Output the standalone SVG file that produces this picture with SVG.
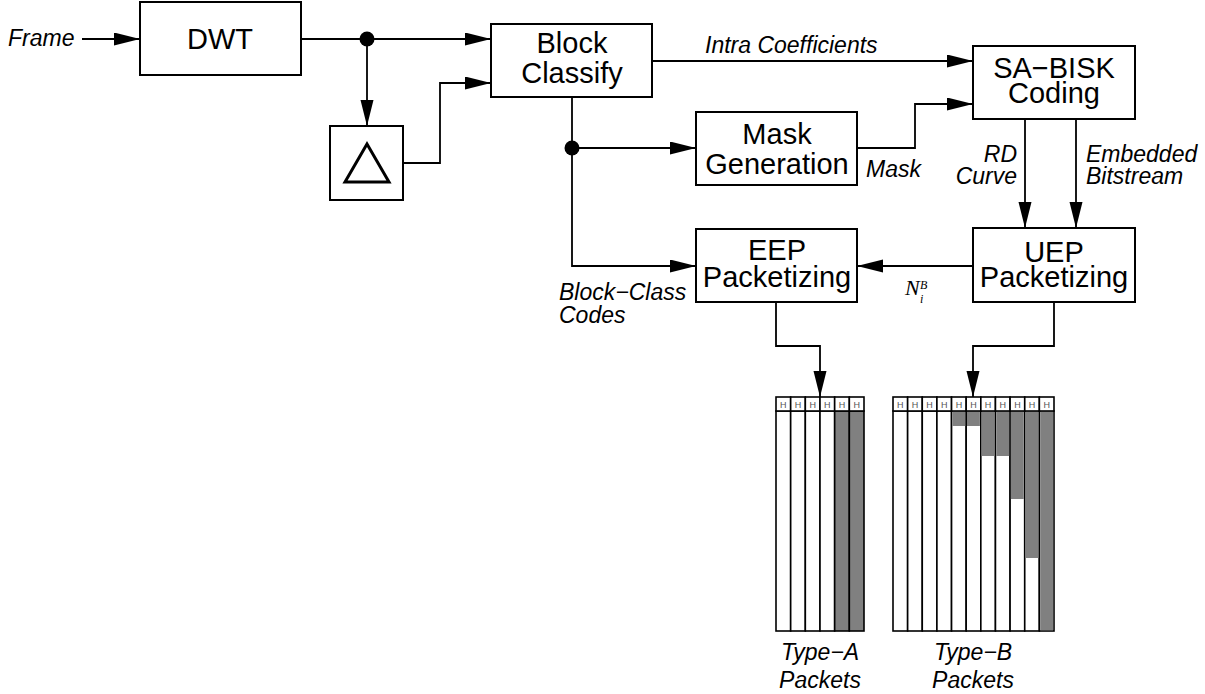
<svg xmlns="http://www.w3.org/2000/svg" width="1205" height="694" viewBox="0 0 1205 694">
<style>
.box{fill:#fff;stroke:#000;stroke-width:2}
.ln{fill:none;stroke:#000;stroke-width:1.8}
.nt{font-family:"Liberation Sans",Arial,sans-serif;font-size:29px;text-anchor:middle;fill:#000}
.lb{font-family:"Liberation Sans",Arial,sans-serif;font-size:23px;font-style:italic;fill:#000}
.col{fill:#fff;stroke:#000;stroke-width:1.6}
.g{fill:#808080;stroke:none}
.h{font-family:"Liberation Sans",Arial,sans-serif;font-size:9px;text-anchor:middle;fill:#555}
.tm{font-family:"Liberation Serif","Times New Roman",serif;font-style:italic;fill:#000}
</style>
<defs>
<marker id="ah" markerUnits="userSpaceOnUse" markerWidth="27" markerHeight="14" refX="26" refY="6.5" orient="auto">
<path d="M0,0 L26,6.5 L0,13 z" fill="#000"/>
</marker>
</defs>
<rect width="1205" height="694" fill="#fff"/>
<g id="connectors">
<path class="ln" d="M82,39 H140" marker-end="url(#ah)"/>
<path class="ln" d="M301,39 H491" marker-end="url(#ah)"/>
<path class="ln" d="M367,39 V126" marker-end="url(#ah)"/>
<path class="ln" d="M403,163 H440 V83 H491" marker-end="url(#ah)"/>
<path class="ln" d="M652,61 H973" marker-end="url(#ah)"/>
<path class="ln" d="M572,97 V266 H696" marker-end="url(#ah)"/>
<path class="ln" d="M572,148 H696" marker-end="url(#ah)"/>
<path class="ln" d="M857,148 H915 V104 H973" marker-end="url(#ah)"/>
<path class="ln" d="M1025,119 V228" marker-end="url(#ah)"/>
<path class="ln" d="M1076,119 V228" marker-end="url(#ah)"/>
<path class="ln" d="M973,266 H857" marker-end="url(#ah)"/>
<path class="ln" d="M776,302 V346 H820 V397" marker-end="url(#ah)"/>
<path class="ln" d="M1054,302 V346 H973 V397" marker-end="url(#ah)"/>
<circle cx="367" cy="39" r="7.5" fill="#000"/>
<circle cx="572" cy="148" r="7.5" fill="#000"/>
<text class="lb" x="8" y="46">Frame</text>
<text class="lb" x="705" y="53">Intra Coefficients</text>
<text class="lb" x="866" y="177">Mask</text>
<text class="lb" x="1017" y="162" text-anchor="end">RD</text>
<text class="lb" x="1017" y="184" text-anchor="end">Curve</text>
<text class="lb" x="1086" y="162">Embedded</text>
<text class="lb" x="1086" y="184">Bitstream</text>
<text class="lb" x="559" y="300">Block−Class</text>
<text class="lb" x="559" y="323">Codes</text>
<text class="tm" x="905" y="295" font-size="22">N</text>
<text class="tm" x="920" y="289" font-size="12">B</text>
<text class="tm" x="920" y="303" font-size="12">i</text>
</g>
<g id="dwt"><rect class="box" x="140" y="2" width="161" height="73"/><text class="nt" x="220" y="49">DWT</text></g>
<g id="delta"><rect class="box" x="330" y="126" width="73" height="74"/><path d="M367,144 L389,182 L345,182 z" fill="none" stroke="#000" stroke-width="3"/></g>
<g id="block-classify"><rect class="box" x="491" y="24" width="161" height="73"/><text class="nt" x="572" y="53">Block</text><text class="nt" x="572" y="83">Classify</text></g>
<g id="mask-generation"><rect class="box" x="696" y="112" width="161" height="73"/><text class="nt" x="777" y="144">Mask</text><text class="nt" x="777" y="174">Generation</text></g>
<g id="sa-bisk"><rect class="box" x="973" y="46" width="162" height="73"/><text class="nt" x="1054" y="78">SA−BISK</text><text class="nt" x="1054" y="103">Coding</text></g>
<g id="uep"><rect class="box" x="973" y="228" width="162" height="74"/><text class="nt" x="1054" y="262">UEP</text><text class="nt" x="1054" y="287">Packetizing</text></g>
<g id="eep"><rect class="box" x="696" y="229" width="161" height="73"/><text class="nt" x="777" y="260">EEP</text><text class="nt" x="777" y="287">Packetizing</text></g>
<g id="type-a">
<rect class="col" x="776" y="411" width="14.67" height="220"/>
<rect class="col" x="790.67" y="411" width="14.67" height="220"/>
<rect class="col" x="805.33" y="411" width="14.67" height="220"/>
<rect class="col" x="820" y="411" width="14.67" height="220"/>
<rect x="834.67" y="411" width="14.67" height="220" fill="#808080" stroke="#000" stroke-width="1.6"/>
<rect x="849.33" y="411" width="14.67" height="220" fill="#808080" stroke="#000" stroke-width="1.6"/>
<rect class="col" x="776" y="397" width="14.67" height="14"/>
<rect class="col" x="790.67" y="397" width="14.67" height="14"/>
<rect class="col" x="805.33" y="397" width="14.67" height="14"/>
<rect class="col" x="820" y="397" width="14.67" height="14"/>
<rect class="col" x="834.67" y="397" width="14.67" height="14"/>
<rect class="col" x="849.33" y="397" width="14.67" height="14"/>
<text class="h" x="783.3" y="407.5">H</text><text class="h" x="798" y="407.5">H</text><text class="h" x="812.7" y="407.5">H</text><text class="h" x="827.3" y="407.5">H</text><text class="h" x="842" y="407.5">H</text><text class="h" x="856.7" y="407.5">H</text>
<text class="lb" x="820" y="660" text-anchor="middle">Type−A</text>
<text class="lb" x="820" y="688" text-anchor="middle">Packets</text>
</g>
<g id="type-b">
<rect class="col" x="893" y="411" width="14.64" height="220"/>
<rect class="col" x="907.64" y="411" width="14.64" height="220"/>
<rect class="col" x="922.27" y="411" width="14.64" height="220"/>
<rect class="col" x="936.91" y="411" width="14.64" height="220"/>
<rect class="col" x="951.55" y="411" width="14.64" height="220"/>
<rect class="col" x="966.18" y="411" width="14.64" height="220"/>
<rect class="col" x="980.82" y="411" width="14.64" height="220"/>
<rect class="col" x="995.45" y="411" width="14.64" height="220"/>
<rect class="col" x="1010.09" y="411" width="14.64" height="220"/>
<rect class="col" x="1024.73" y="411" width="14.64" height="220"/>
<rect class="col" x="1039.36" y="411" width="14.64" height="220"/>
<rect class="g" x="952.4" y="411" width="12.9" height="15"/>
<rect class="g" x="967" y="411" width="12.9" height="15"/>
<rect class="g" x="981.6" y="411" width="12.9" height="45"/>
<rect class="g" x="996.3" y="411" width="12.9" height="45"/>
<rect class="g" x="1010.9" y="411" width="12.9" height="88"/>
<rect class="g" x="1025.5" y="411" width="12.9" height="147"/>
<rect class="g" x="1040.2" y="411" width="12.9" height="219.2"/>
<rect class="col" x="893" y="397" width="14.64" height="14"/>
<rect class="col" x="907.64" y="397" width="14.64" height="14"/>
<rect class="col" x="922.27" y="397" width="14.64" height="14"/>
<rect class="col" x="936.91" y="397" width="14.64" height="14"/>
<rect class="col" x="951.55" y="397" width="14.64" height="14"/>
<rect class="col" x="966.18" y="397" width="14.64" height="14"/>
<rect class="col" x="980.82" y="397" width="14.64" height="14"/>
<rect class="col" x="995.45" y="397" width="14.64" height="14"/>
<rect class="col" x="1010.09" y="397" width="14.64" height="14"/>
<rect class="col" x="1024.73" y="397" width="14.64" height="14"/>
<rect class="col" x="1039.36" y="397" width="14.64" height="14"/>
<text class="h" x="900.3" y="407.5">H</text><text class="h" x="915" y="407.5">H</text><text class="h" x="929.6" y="407.5">H</text><text class="h" x="944.2" y="407.5">H</text><text class="h" x="958.9" y="407.5">H</text><text class="h" x="973.5" y="407.5">H</text><text class="h" x="988.1" y="407.5">H</text><text class="h" x="1002.8" y="407.5">H</text><text class="h" x="1017.4" y="407.5">H</text><text class="h" x="1032" y="407.5">H</text><text class="h" x="1046.7" y="407.5">H</text>
<text class="lb" x="973" y="660" text-anchor="middle">Type−B</text>
<text class="lb" x="973" y="688" text-anchor="middle">Packets</text>
</g>
</svg>
